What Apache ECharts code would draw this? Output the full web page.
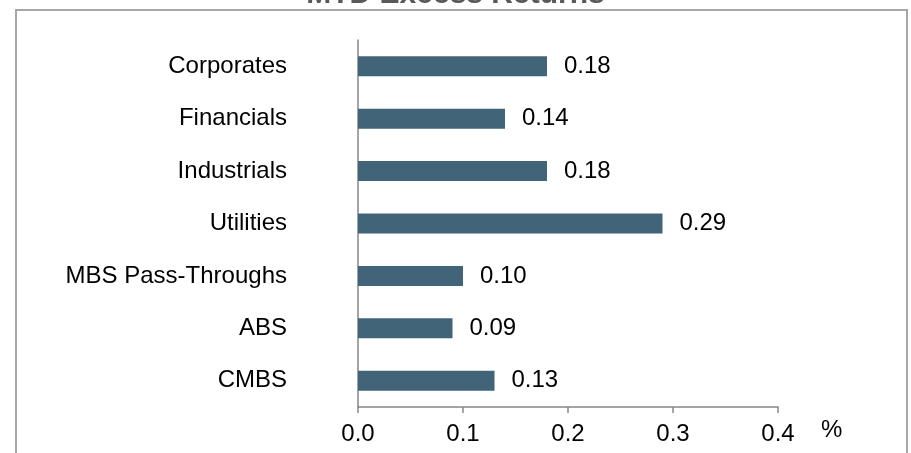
<!DOCTYPE html>
<html>
<head>
<meta charset="utf-8">
<script src="https://cdn.jsdelivr.net/npm/echarts@6/dist/echarts.min.js"></script>
<style>
html,body{margin:0;padding:0;background:#fff;}
#chart{width:911px;height:453px;}
</style>
</head>
<body>
<div id="chart"></div>
<script>
var categories = ['Corporates', 'Financials', 'Industrials', 'Utilities', 'MBS Pass-Throughs', 'ABS', 'CMBS'];
var values = [0.18, 0.14, 0.18, 0.29, 0.10, 0.09, 0.13];
var xTicks = [0.0, 0.1, 0.2, 0.3, 0.4];
var titleText = 'MTD Excess Returns';
var unitLabel = '%';

var font = '"Liberation Sans", Arial, sans-serif';
var chart = echarts.init(document.getElementById('chart'));
chart.setOption({
  animation: false,
  backgroundColor: '#fff',
  title: {
    text: titleText,
    left: 'center',
    top: -20,
    padding: 0,
    textStyle: {fontFamily: font, fontSize: 30, fontWeight: 'bold', color: '#595959'}
  },
  graphic: [{
    type: 'rect',
    shape: {x: 16, y: 10, width: 891, height: 470},
    style: {fill: 'none', stroke: '#a6a6a6', lineWidth: 2},
    silent: true
  }],
  grid: {left: 358, right: 133, top: 40, bottom: 45, containLabel: false},
  xAxis: {
    type: 'value',
    min: xTicks[0],
    max: xTicks[xTicks.length - 1],
    interval: 0.1,
    name: unitLabel,
    nameLocation: 'end',
    nameGap: 43,
    nameTextStyle: {fontFamily: font, fontSize: 24, color: '#000', align: 'left', verticalAlign: 'top', lineHeight: 46},
    axisLine: {show: true, lineStyle: {color: '#868686', width: 1.5}},
    axisTick: {show: true, length: 6, lineStyle: {color: '#868686', width: 1.5}},
    splitLine: {show: false},
    axisLabel: {
      fontFamily: font, fontSize: 24, color: '#000', margin: 15,
      formatter: function (v) { return v.toFixed(1); }
    }
  },
  yAxis: {
    type: 'category',
    data: categories,
    inverse: true,
    axisLine: {show: true, lineStyle: {color: '#868686', width: 1.5}},
    axisTick: {show: false},
    axisLabel: {fontFamily: font, fontSize: 24, color: '#000', margin: 71}
  },
  series: [{
    type: 'bar',
    data: values,
    barWidth: 20,
    itemStyle: {color: '#416478'},
    label: {
      show: true,
      position: 'right',
      distance: 17,
      fontFamily: font,
      fontSize: 24,
      color: '#000',
      formatter: function (p) { return p.value.toFixed(2); }
    }
  }]
});
</script>
</body>
</html>
